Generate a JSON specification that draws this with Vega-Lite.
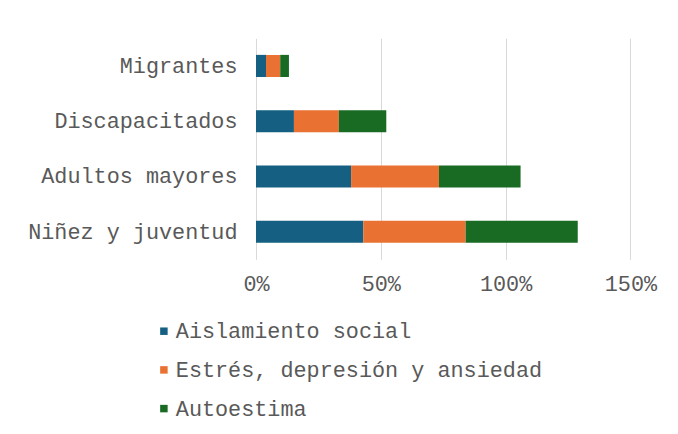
{
  "$schema": "https://vega.github.io/schema/vega-lite/v6.json",
  "width": 374.4,
  "height": 221,
  "autosize": {"type": "none"},
  "padding": {"left": 256, "top": 38.3, "right": 47.6, "bottom": 174.7},
  "background": "white",
  "config": {
    "view": {"stroke": null},
    "font": "Liberation Mono",
    "axis": {"labelFont": "Liberation Mono", "labelColor": "#595959", "labelFontSize": 21.8, "labelLimit": 300},
    "legend": {"labelFont": "Liberation Mono", "labelColor": "#595959", "labelFontSize": 21.8, "labelLimit": 500}
  },
  "data": {
    "values": [
      {"grupo": "Migrantes", "problema": "Aislamiento social", "k": 1, "valor": 0.040},
      {"grupo": "Migrantes", "problema": "Estrés, depresión y ansiedad", "k": 2, "valor": 0.057},
      {"grupo": "Migrantes", "problema": "Autoestima", "k": 3, "valor": 0.035},
      {"grupo": "Discapacitados", "problema": "Aislamiento social", "k": 1, "valor": 0.152},
      {"grupo": "Discapacitados", "problema": "Estrés, depresión y ansiedad", "k": 2, "valor": 0.180},
      {"grupo": "Discapacitados", "problema": "Autoestima", "k": 3, "valor": 0.190},
      {"grupo": "Adultos mayores", "problema": "Aislamiento social", "k": 1, "valor": 0.381},
      {"grupo": "Adultos mayores", "problema": "Estrés, depresión y ansiedad", "k": 2, "valor": 0.352},
      {"grupo": "Adultos mayores", "problema": "Autoestima", "k": 3, "valor": 0.327},
      {"grupo": "Niñez y juventud", "problema": "Aislamiento social", "k": 1, "valor": 0.430},
      {"grupo": "Niñez y juventud", "problema": "Estrés, depresión y ansiedad", "k": 2, "valor": 0.410},
      {"grupo": "Niñez y juventud", "problema": "Autoestima", "k": 3, "valor": 0.449}
    ]
  },
  "mark": {"type": "bar"},
  "encoding": {
    "y": {
      "field": "grupo",
      "type": "nominal",
      "sort": ["Migrantes", "Discapacitados", "Adultos mayores", "Niñez y juventud"],
      "scale": {"paddingInner": 0.6, "paddingOuter": 0.3},
      "axis": {"title": null, "domain": false, "ticks": false, "labelPadding": 19, "grid": false}
    },
    "x": {
      "field": "valor",
      "type": "quantitative",
      "stack": "zero",
      "scale": {"domain": [0, 1.5], "nice": false},
      "axis": {
        "title": null,
        "values": [0, 0.5, 1, 1.5],
        "format": ".0%",
        "domain": false,
        "ticks": false,
        "labelFlush": false,
        "labelPadding": 14,
        "grid": true,
        "gridColor": "#D9D9D9",
        "gridWidth": 1
      }
    },
    "color": {
      "field": "problema",
      "type": "nominal",
      "scale": {
        "domain": ["Aislamiento social", "Estrés, depresión y ansiedad", "Autoestima"],
        "range": ["#156082", "#E97132", "#196B24"]
      },
      "legend": {
        "title": null,
        "orient": "none",
        "direction": "vertical",
        "legendX": -103,
        "legendY": 282,
        "symbolType": "square",
        "symbolSize": 56,
        "symbolStrokeWidth": 0,
        "labelOffset": 1,
        "rowPadding": 15.7
      }
    },
    "order": {"field": "k", "type": "quantitative"}
  }
}
